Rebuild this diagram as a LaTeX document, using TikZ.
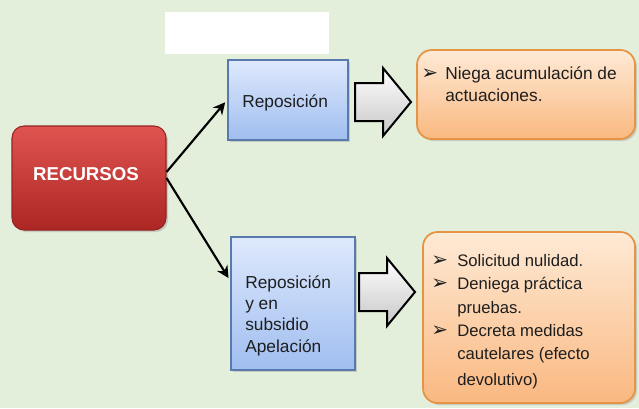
\documentclass[tikz,border=0pt]{standalone}
\usepackage{fontspec}
\setmainfont{Liberation Sans}
\newfontfamily\symfont{DejaVu Sans}
\usetikzlibrary{calc,shadows,arrows.meta}
\definecolor{fondo}{RGB}{227,238,219}
\definecolor{rojoA}{RGB}{224,84,80}
\definecolor{rojoB}{RGB}{172,38,36}
\definecolor{rojoL}{RGB}{150,36,34}
\definecolor{azulA}{RGB}{222,233,253}
\definecolor{azulB}{RGB}{160,190,240}
\definecolor{azulL}{RGB}{88,122,172}
\definecolor{naranjaA}{RGB}{254,234,214}
\definecolor{naranjaB}{RGB}{250,184,128}
\definecolor{naranjaL}{RGB}{228,148,68}
\definecolor{tinta}{RGB}{30,30,30}
\def\bul{\makebox[18pt][l]{\symfont\fontsize{15pt}{12pt}\selectfont ➢}}
\def\sig{\hspace*{18pt}}
\def\bulb{\makebox[19.5pt][l]{\symfont\fontsize{15pt}{12pt}\selectfont ➢}}
\def\sigb{\hspace*{19.5pt}}
\def\flechabloque[#1](#2,#3){\draw[#1] (#2,#3-19) -- (#2+28,#3-19) -- (#2+28,#3-34) -- (#2+56,#3) -- (#2+28,#3+34) -- (#2+28,#3+19) -- (#2,#3+19) -- cycle;}
\tikzset{
  sombra/.style={drop shadow={opacity=0.3, shadow xshift=1.5pt, shadow yshift=-1.5pt}},
  cajaroja/.style={rectangle, rounded corners=9pt, draw=rojoL, line width=0.8pt, top color=rojoA, bottom color=rojoB, sombra},
  cajaazul/.style={rectangle, draw=azulL, line width=1.3pt, top color=azulA, bottom color=azulB, sombra},
  cajanaranja/.style={rectangle, rounded corners=11pt, draw=naranjaL, line width=1.3pt, top color=naranjaA, bottom color=naranjaB, sombra},
  bloque/.style={draw=black, line width=1.5pt, line join=miter, top color=white, bottom color=black!22},
  conector/.style={line width=1.6pt, -{Stealth[length=9pt,width=9pt]}, shorten >=2.25pt},
  texto/.style={inner sep=0pt, align=left, text=tinta, font=\fontsize{13pt}{16pt}\selectfont}
}
\begin{document}
\begin{tikzpicture}[x=0.75pt, y=-0.75pt]
  %%%%% START %%%%%
  \useasboundingbox (0,0) rectangle (639,408);
  \fill[fondo] (0,0) rectangle (639,408);
  \fill[white] (165,12) rectangle (329,54);

  \node[cajaroja, minimum width=115.5pt, minimum height=78pt] (recursos) at (89,178) {};
  \node[inner sep=0pt, text=white, font=\fontsize{14pt}{16pt}\selectfont\bfseries] (recursostxt) at (86,174) {RECURSOS};

  \node[cajaazul, minimum width=90pt, minimum height=60pt] (repo) at (288,100) {};
  \node[texto, anchor=west] (repotxt) at (242,103) {Reposición};

  \node[cajaazul, minimum width=93pt, minimum height=99.75pt] (apel) at (293,303.5) {};
  \node[texto, anchor=north west] (apeltxt) at (245,275) {Reposición\\y en\\subsidio\\Apelación};

  \flechabloque[bloque](355,102);
  \flechabloque[bloque](359,292);

  \node[cajanaranja, minimum width=163.5pt, minimum height=66.75pt] (niega) at (526,94.5) {};
  \node[texto, anchor=north west, font=\fontsize{13pt}{16.5pt}\selectfont] (niegatxt) at (421,66) {\bul Niega acumulación de\\\sig actuaciones.};

  \node[cajanaranja, minimum width=159pt, minimum height=128.25pt] (solicitud) at (529,317.5) {};
  \node[texto, anchor=north west, font=\fontsize{12.5pt}{17.5pt}\selectfont] (solicitudtxt) at (431,254) {\bulb Solicitud nulidad.\\\bulb Deniega práctica\\\sigb pruebas.\\\bulb Decreta medidas\\\sigb cautelares (efecto\\[2pt]\sigb devolutivo)};

  \draw[conector] ([yshift=4.5pt]recursos.east) -- (repo.west);
  \draw[conector] (recursos.east) -- ($(apel.north west)!0.33!(apel.south west)$);
  %%%%% END %%%%%
\end{tikzpicture}
\end{document}
